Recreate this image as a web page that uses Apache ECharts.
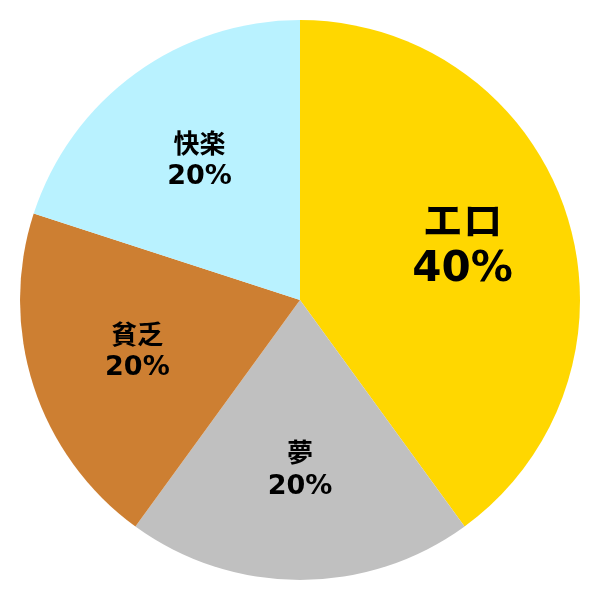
<!DOCTYPE html>
<html><head><meta charset="utf-8">
<script src="https://cdn.jsdelivr.net/npm/echarts@6/dist/echarts.min.js"></script>
<style>html,body{margin:0;padding:0;background:#fff}#c{width:600px;height:600px}</style>
</head><body><div id="c"></div>
<script>
const categories = ['エロ', '夢', '貧乏', '快楽'];
const values = [40, 20, 20, 20];
const colors = ['#FFD700', '#C0C0C0', '#CD7F32', '#B9F2FF'];

const FONT = '"DejaVu Sans", "Noto Sans CJK JP", sans-serif';
const chart = echarts.init(document.getElementById('c'), null, {renderer: 'canvas'});
const baseData = categories.map((n, i) => ({name: n, value: values[i], itemStyle: {color: colors[i]}}));
const labelData = categories.map((n, i) => ({
  name: n, value: values[i],
  label: {formatter: i === 0 ? '{bn|{b}}\n{bp|{d}%}' : '{sn|{b}}\n{sp|{d}%}'}
}));
chart.setOption({
  animation: false,
  series: [
    {
      type: 'pie', center: [300, 300], radius: [0, 280], startAngle: 90, clockwise: true,
      label: {show: false}, labelLine: {show: false}, silent: true,
      itemStyle: {borderWidth: 0},
      data: baseData
    },
    {
      type: 'pie', center: [300, 300], radius: [56, 280], startAngle: 90, clockwise: true,
      silent: true, itemStyle: {color: 'rgba(0,0,0,0)', borderWidth: 0},
      labelLine: {show: false},
      label: {
        show: true, position: 'inside', color: '#000', fontFamily: FONT, fontWeight: 'bold',
        rich: {
          bn: {fontSize: 40, fontWeight: 'bold', fontFamily: FONT, color: '#000', lineHeight: 45, align: 'center'},
          bp: {fontSize: 42, fontWeight: 'bold', fontFamily: FONT, color: '#000', lineHeight: 45, align: 'center'},
          sn: {fontSize: 26, fontWeight: 'bold', fontFamily: FONT, color: '#000', lineHeight: 31, align: 'center'},
          sp: {fontSize: 27, fontWeight: 'bold', fontFamily: FONT, color: '#000', lineHeight: 31, align: 'center'}
        }
      },
      data: labelData
    }
  ]
});
</script></body></html>
